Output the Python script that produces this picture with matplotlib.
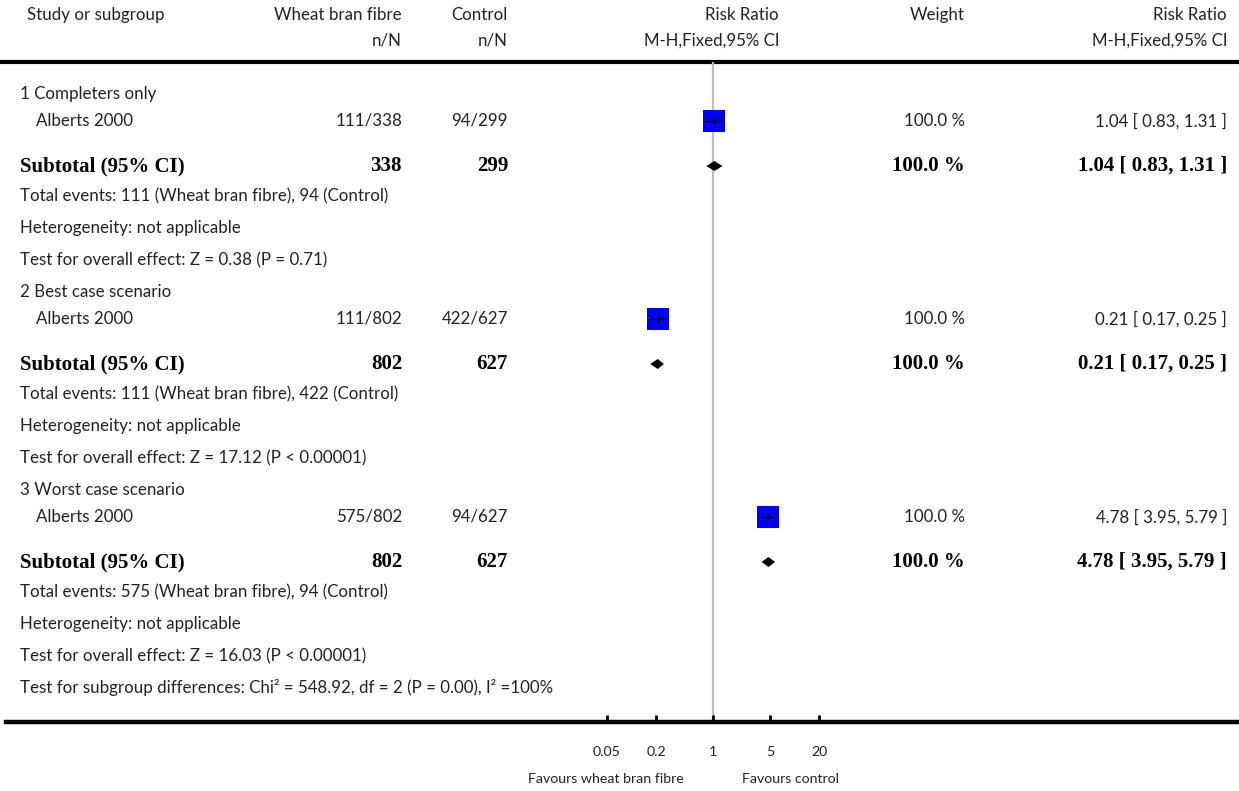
import numpy as np
import matplotlib
matplotlib.use("Agg")
import matplotlib.pyplot as plt

# Subgroups of the Alberts 2000 trial
groups = ["1 Completers only", "2 Best case scenario", "3 Worst case scenario"]
study = "Alberts 2000"
treat_events = [111, 111, 575]
treat_total = [338, 802, 802]
ctrl_events = [94, 422, 94]
ctrl_total = [299, 627, 627]
rr = [1.04, 0.21, 4.78]
ci_lo = [0.83, 0.17, 3.95]
ci_hi = [1.31, 0.25, 5.79]
weight = [100.0, 100.0, 100.0]
z_stat = ["0.38", "17.12", "16.03"]
p_text = ["P = 0.71", "P < 0.00001", "P < 0.00001"]
overall = "Test for subgroup differences: Chi\u00b2 = 548.92, df = 2 (P = 0.00), I\u00b2 =100%"

tick_vals = [0.05, 0.2, 1, 5, 20]
tick_labels = ["0.05", "0.2", "1", "5", "20"]

W, H = 1239, 791
SANS = "Lato"
SERIF = "Liberation Serif"
FS = 12.2
FS_B = 15
FS_S = 10.2

# pixel layout of the log axis: x_px = X1 + PPD * log10(rr)
X1, PPD = 713, 81.5
AX_L, AX_TOP, AX_BOT = 6, 62, 722

fig = plt.figure(figsize=(W / 100, H / 100), dpi=100, facecolor="white")
tx = fig.add_axes([0, 0, 1, 1])
tx.set_xlim(0, W)
tx.set_ylim(H, 0)
tx.axis("off")

fa = fig.add_axes([AX_L / W, (H - AX_BOT) / H, (W - AX_L) / W, (AX_BOT - AX_TOP) / H])
fa.patch.set_alpha(0)
fa.set_xscale("log")
fa.set_xlim(10 ** ((AX_L - X1) / PPD), 10 ** ((W - X1) / PPD))
fa.set_ylim(AX_BOT, AX_TOP)
for s in ("top", "left", "right"):
    fa.spines[s].set_visible(False)
fa.spines["bottom"].set_linewidth(3.2)
fa.set_yticks([])
fa.set_xticks(tick_vals)
fa.set_xticklabels(tick_labels, fontsize=FS_S, family=SANS, color="#222222")
fa.xaxis.set_minor_locator(matplotlib.ticker.NullLocator())
fa.tick_params(axis="x", direction="in", length=5, width=2, pad=17)
fa.axvline(1, color="#bdbdbd", lw=1.6, zorder=1)


def txt(x, y, s, ha="left", bold=False, size=None):
    if bold:
        tx.text(x, y, s, ha=ha, va="center", fontsize=size or FS_B,
                family=SERIF, fontweight="bold", color="black")
    else:
        tx.text(x, y, s, ha=ha, va="center", fontsize=size or FS,
                family=SANS, color="#222222")


# column headers
txt(27, 15, "Study or subgroup")
txt(402, 15, "Wheat bran fibre", ha="right")
txt(402, 41, "n/N", ha="right")
txt(508, 15, "Control", ha="right")
txt(508, 41, "n/N", ha="right")
txt(779, 15, "Risk Ratio", ha="right")
txt(779, 41, "M-H,Fixed,95% CI", ha="right")
txt(965, 15, "Weight", ha="right")
txt(1227, 15, "Risk Ratio", ha="right")
txt(1227, 41, "M-H,Fixed,95% CI", ha="right")
tx.axhline(AX_TOP, color="black", lw=3)

for i, g in enumerate(groups):
    y0 = 94 + 198 * i
    y_study, y_sub = y0 + 27, y0 + 72
    ci_txt = f"{rr[i]:.2f} [ {ci_lo[i]:.2f}, {ci_hi[i]:.2f} ]"

    txt(20, y0, g)
    txt(36, y_study, study)
    txt(402, y_study, f"{treat_events[i]}/{treat_total[i]}", ha="right")
    txt(508, y_study, f"{ctrl_events[i]}/{ctrl_total[i]}", ha="right")
    txt(965, y_study, f"{weight[i]:.1f} %", ha="right")
    txt(1227, y_study, ci_txt, ha="right")

    # study estimate: blue box with CI whisker
    fa.plot([rr[i]], [y_study], marker="s", ms=15.8, mew=0, color="#0000ff", zorder=3)
    fa.plot([ci_lo[i], ci_hi[i]], [y_study, y_study], color="black", lw=1, zorder=4)
    fa.plot([rr[i]], [y_study], marker="|", ms=4, mew=1, color="black", zorder=4)

    txt(20, y_sub, "Subtotal (95% CI)", bold=True)
    txt(402, y_sub, f"{treat_total[i]}", ha="right", bold=True)
    txt(508, y_sub, f"{ctrl_total[i]}", ha="right", bold=True)
    txt(965, y_sub, f"{weight[i]:.1f} %", ha="right", bold=True)
    txt(1227, y_sub, ci_txt, ha="right", bold=True)

    # pooled estimate diamond
    fa.fill([ci_lo[i], rr[i], ci_hi[i], rr[i]],
            [y_sub, y_sub - 5, y_sub, y_sub + 5], color="black", lw=0, zorder=3)

    txt(20, y0 + 102, f"Total events: {treat_events[i]} (Wheat bran fibre), "
                      f"{ctrl_events[i]} (Control)")
    txt(20, y0 + 134, "Heterogeneity: not applicable")
    txt(20, y0 + 166, f"Test for overall effect: Z = {z_stat[i]} ({p_text[i]})")

txt(20, 688, overall)

txt(684, 779, "Favours wheat bran fibre", ha="right", size=FS_S)
txt(742, 779, "Favours control", size=FS_S)

fig.savefig("out.png", dpi=100, facecolor="white")
